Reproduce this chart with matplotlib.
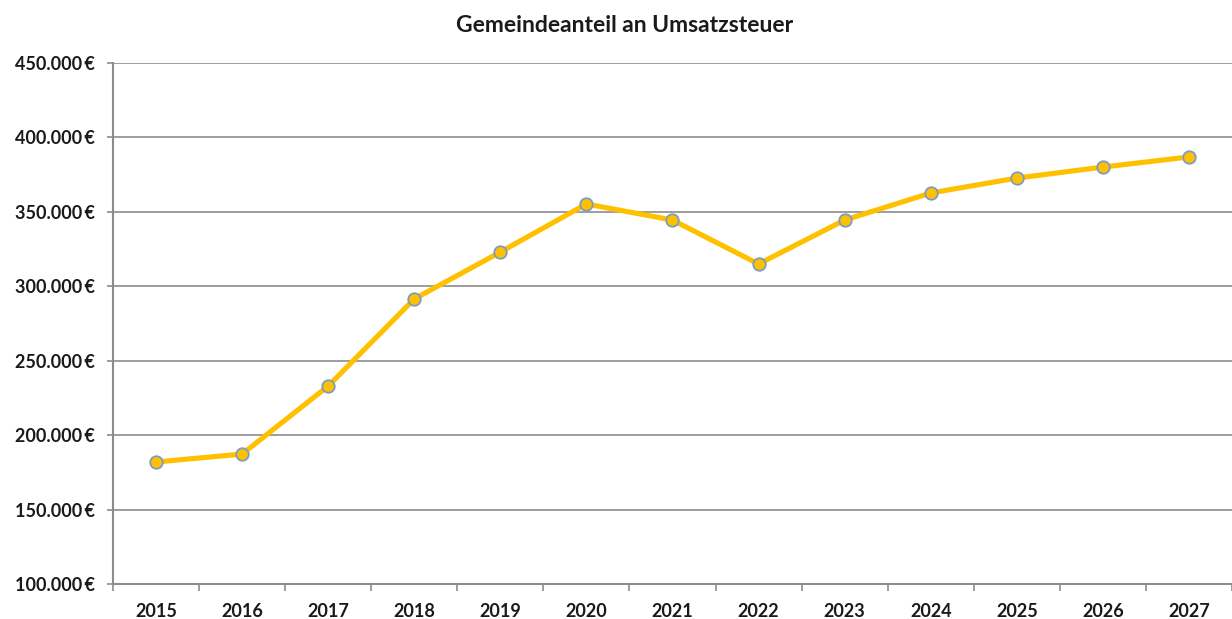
import matplotlib.pyplot as plt
from matplotlib.ticker import FuncFormatter, FixedLocator

# Data
years = ['2015', '2016', '2017', '2018', '2019', '2020', '2021',
         '2022', '2023', '2024', '2025', '2026', '2027']
values = [182000, 187300, 233000, 291500, 323000, 355300, 344500,
          315000, 344500, 362700, 372700, 380100, 386900]
y_ticks = [100000, 150000, 200000, 250000, 300000, 350000, 400000, 450000]

LINE_GOLD = '#FFC000'
MARKER_EDGE = '#7B9CC4'
GRID_GRAY = '#8C8C8C'
TEXT_BLACK = '#1A1A1A'

plt.rcParams['font.family'] = ['Lato', 'DejaVu Sans']

fig = plt.figure(figsize=(12.32, 6.19), dpi=100)
fig.patch.set_facecolor('white')
ax = fig.add_axes([0.0917, 0.0565, 0.9083, 0.8417])

x = list(range(len(years)))
ax.plot(x, values, color=LINE_GOLD, linewidth=3.7, marker='o',
        markersize=9, markerfacecolor=LINE_GOLD,
        markeredgecolor=MARKER_EDGE, markeredgewidth=1.3, zorder=3)

ax.set_xlim(-0.5, len(years) - 0.5)
ax.set_ylim(100000, 450000)
ax.set_yticks(y_ticks)
ax.yaxis.set_major_formatter(
    FuncFormatter(lambda v, p: f"{int(v):,}".replace(',', '.') + '\u2009€'))
ax.grid(axis='y', color=GRID_GRAY, linewidth=1.2)
ax.set_axisbelow(True)

# category labels centered, tick marks on the boundaries
ax.set_xticks(x)
ax.set_xticklabels(years)
ax.xaxis.set_minor_locator(FixedLocator([i + 0.5 for i in range(-1, len(years))]))
ax.tick_params(axis='x', which='major', length=0, pad=14)
ax.tick_params(axis='x', which='minor', length=5, color=GRID_GRAY, width=1.2)
ax.tick_params(axis='y', length=4.5, color=GRID_GRAY, width=1.2, pad=8.5)

for lab in ax.get_xticklabels() + ax.get_yticklabels():
    lab.set_fontweight('bold')
    lab.set_fontsize(13)
    lab.set_color(TEXT_BLACK)

for side in ['top', 'right']:
    ax.spines[side].set_visible(False)
for side in ['left', 'bottom']:
    ax.spines[side].set_color(GRID_GRAY)
    ax.spines[side].set_linewidth(1.5)

fig.text(0.507, 0.958, 'Gemeindeanteil an Umsatzsteuer', ha='center',
         va='center', fontsize=16.5, fontweight='bold', color=TEXT_BLACK)

fig.savefig('out.png', dpi=100, facecolor='white')
